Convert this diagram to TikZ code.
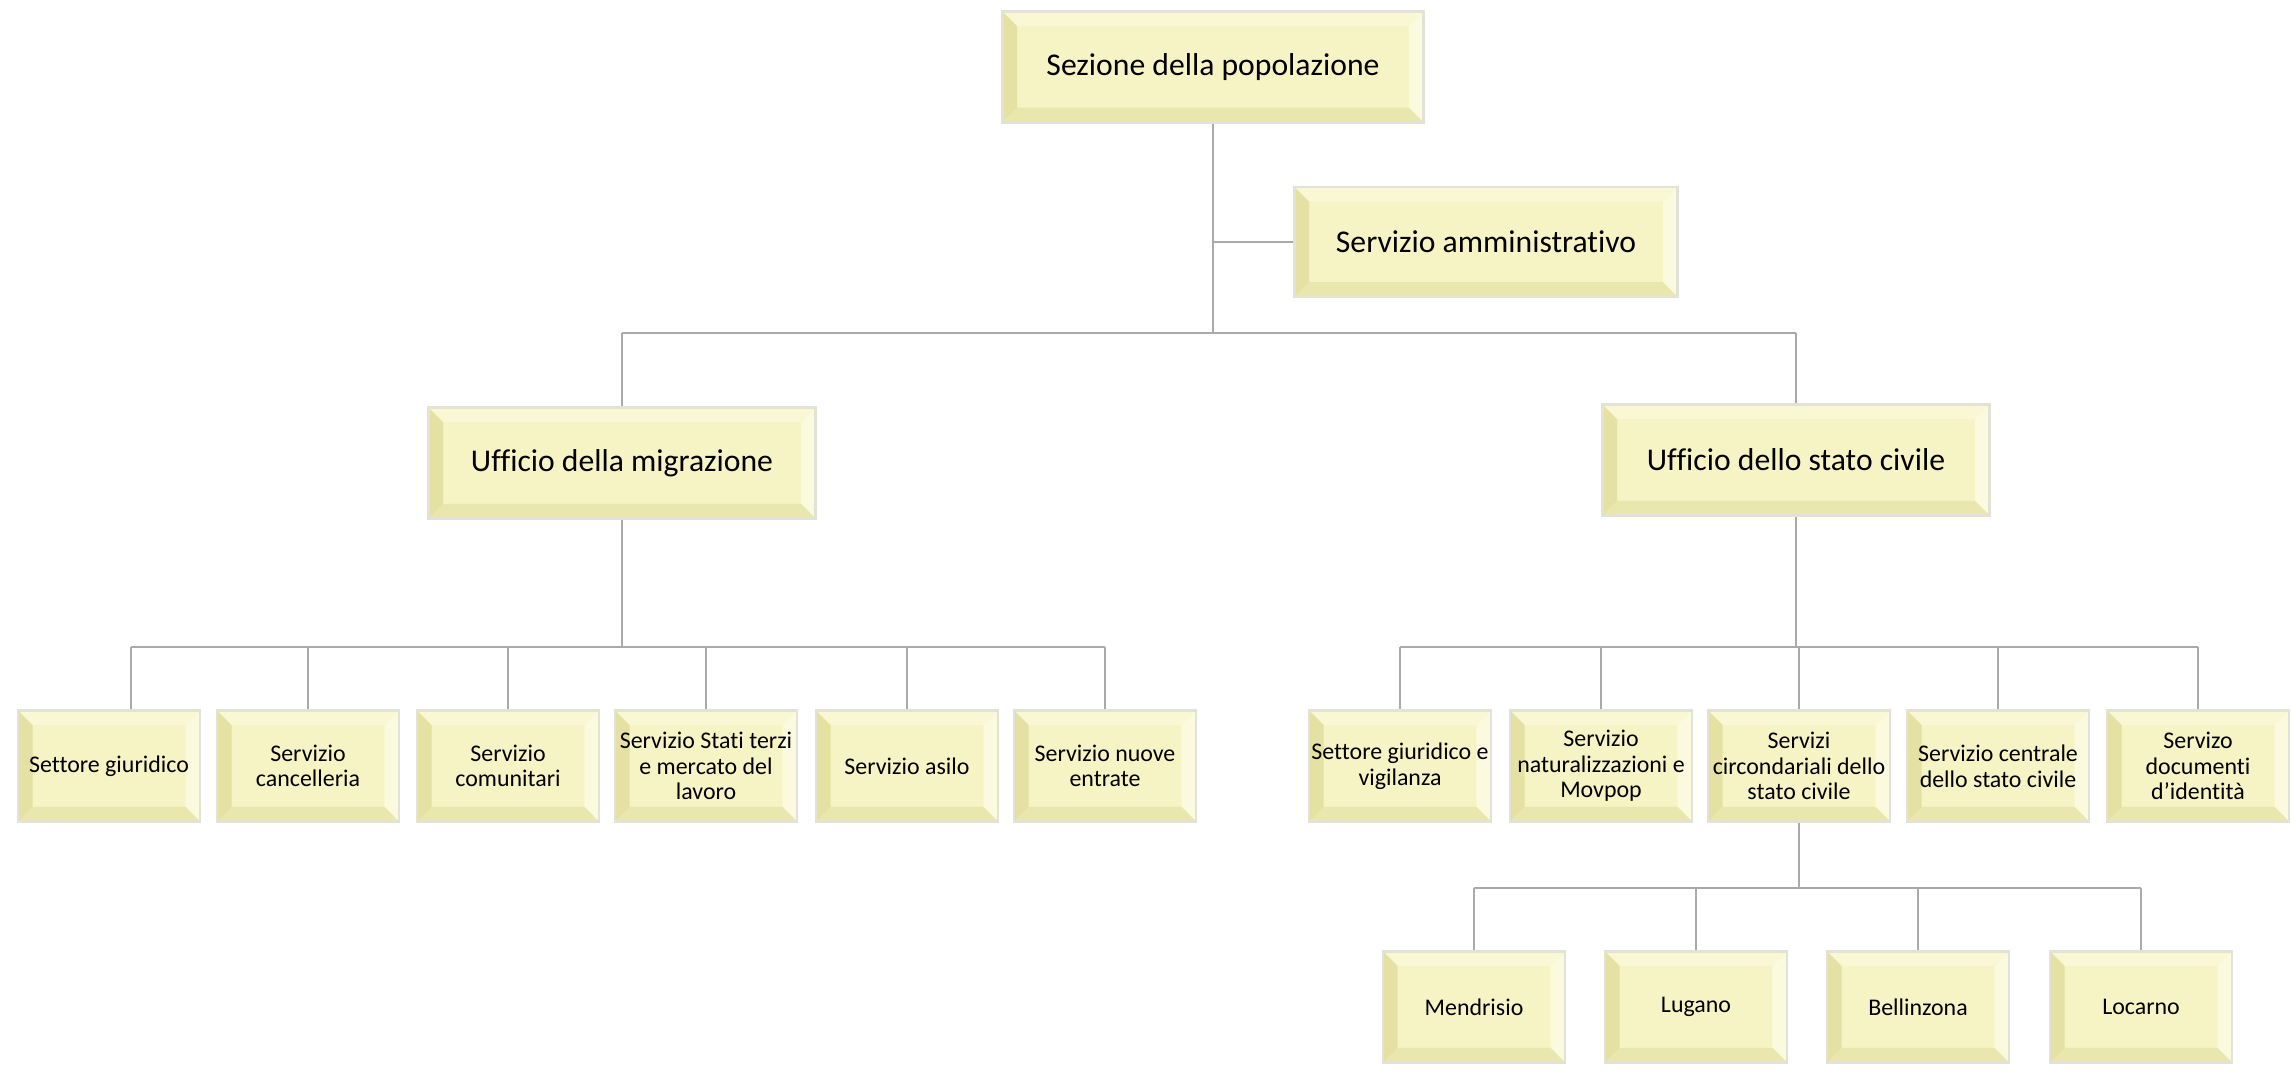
\documentclass[tikz,border=0pt]{standalone}
\usepackage{fontspec}
\setmainfont{Carlito}[Ligatures=NoCommon]
\definecolor{boxfill}{RGB}{246,243,196}
\definecolor{bvtop}{RGB}{249,247,212}
\definecolor{bvright}{RGB}{251,249,222}
\definecolor{bvbottom}{RGB}{234,231,174}
\definecolor{bvleft}{RGB}{228,225,162}
\definecolor{boxrim}{RGB}{226,226,214}
\definecolor{connline}{RGB}{170,170,170}
\newcommand\bvw{4.2pt}
\tikzset{
  bevelbox/.style={fill=boxfill, draw=boxrim, line width=0.8pt, inner sep=0pt, align=center,
    path picture={
      \fill[bvtop] (path picture bounding box.north west) -- (path picture bounding box.north east)
        -- ([shift={(-\bvw,-\bvw)}]path picture bounding box.north east) -- ([shift={(\bvw,-\bvw)}]path picture bounding box.north west) -- cycle;
      \fill[bvright] (path picture bounding box.north east) -- (path picture bounding box.south east)
        -- ([shift={(-\bvw,\bvw)}]path picture bounding box.south east) -- ([shift={(-\bvw,-\bvw)}]path picture bounding box.north east) -- cycle;
      \fill[bvbottom] (path picture bounding box.south west) -- (path picture bounding box.south east)
        -- ([shift={(-\bvw,\bvw)}]path picture bounding box.south east) -- ([shift={(\bvw,\bvw)}]path picture bounding box.south west) -- cycle;
      \fill[bvleft] (path picture bounding box.south west) -- (path picture bounding box.north west)
        -- ([shift={(\bvw,-\bvw)}]path picture bounding box.north west) -- ([shift={(\bvw,\bvw)}]path picture bounding box.south west) -- cycle;
    }},
  bigbox/.style={bevelbox, minimum width=3.87cm, minimum height=1.11cm, font=\fontsize{9}{11}\selectfont},
  smallbox/.style={bevelbox, minimum width=1.82cm, minimum height=1.11cm, font=\fontsize{6.8}{7.3}\selectfont},
  conn/.style={draw=connline, line width=0.45pt}
}
\begin{document}
\begin{tikzpicture}[x = 0.01cm, y = -0.01cm]
    \useasboundingbox (0,0) rectangle (2291,1074);
    \node[bigbox, minimum width=4.21cm] (sez) at (1213,67) {Sezione della popolazione};
    \node[bigbox, minimum width=3.83cm, minimum height=1.10cm] (amm) at (1486,242) {Servizio amministrativo};
    \node[bigbox] (migr) at (622,463) {Ufficio della migrazione};
    \node[bigbox] (stciv) at (1796,460) {Ufficio dello stato civile};

    \node[smallbox] (m1) at (109,766) {Settore giuridico};
    \node[smallbox] (m2) at (308,766) {Servizio\\cancelleria};
    \node[smallbox] (m3) at (508,766) {Servizio\\comunitari};
    \node[smallbox] (m4) at (706,766) {Servizio Stati terzi\\e mercato del\\lavoro};
    \node[smallbox] (m5) at (907,766) {Servizio asilo};
    \node[smallbox] (m6) at (1105,766) {Servizio nuove\\entrate};

    \node[smallbox] (s1) at (1400,766) {Settore giuridico e\\vigilanza};
    \node[smallbox] (s2) at (1601,766) {Servizio\\naturalizzazioni e\\Movpop};
    \node[smallbox] (s3) at (1799,766) {Servizi\\circondariali dello\\stato civile};
    \node[smallbox] (s4) at (1998,766) {Servizio centrale\\dello stato civile};
    \node[smallbox] (s5) at (2198,766) {Servizo\\documenti\\d’identità};

    \node[smallbox] (c1) at (1474,1007) {Mendrisio};
    \node[smallbox] (c2) at (1696,1007) {Lugano};
    \node[smallbox] (c3) at (1918,1007) {Bellinzona};
    \node[smallbox] (c4) at (2141,1007) {Locarno};

    \coordinate (busA) at (0,333);
    \coordinate (busB) at (0,647);
    \coordinate (busC) at (0,888);
    \coordinate (m1top) at ([xshift=0.22cm]m1.north);

    \draw[conn]
    (sez) -- (sez |- busA)
    (sez |- amm) -- (amm)
    (migr |- busA) -- (stciv |- busA)
    (migr |- busA) -- (migr)
    (stciv |- busA) -- (stciv);
    \draw[conn]
    (migr) -- (migr |- busB)
    (m1top |- busB) -- (m6 |- busB)
    (m1top |- busB) -- (m1top)
    (m2 |- busB) -- (m2)
    (m3 |- busB) -- (m3)
    (m4 |- busB) -- (m4)
    (m5 |- busB) -- (m5)
    (m6 |- busB) -- (m6);
    \draw[conn]
    (stciv) -- (stciv |- busB)
    (s1 |- busB) -- (s5 |- busB)
    (s1 |- busB) -- (s1)
    (s2 |- busB) -- (s2)
    (s3 |- busB) -- (s3)
    (s4 |- busB) -- (s4)
    (s5 |- busB) -- (s5);
    \draw[conn]
    (s3) -- (s3 |- busC)
    (c1 |- busC) -- (c4 |- busC)
    (c1 |- busC) -- (c1)
    (c2 |- busC) -- (c2)
    (c3 |- busC) -- (c3)
    (c4 |- busC) -- (c4);
\end{tikzpicture}
\end{document}
